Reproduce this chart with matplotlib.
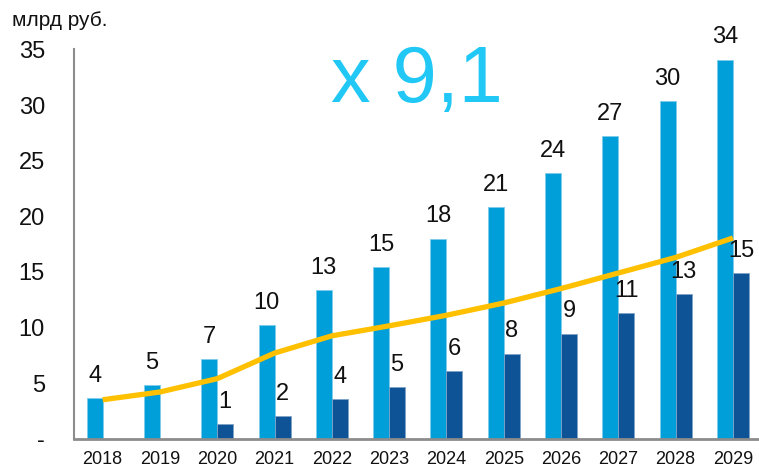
import matplotlib
matplotlib.use("Agg")
import matplotlib.pyplot as plt
import numpy as np

years = ["2018", "2019", "2020", "2021", "2022", "2023", "2024", "2025", "2026", "2027", "2028", "2029"]
light_vals = [3.64, 4.84, 7.18, 10.2, 13.33, 15.45, 18.0, 20.8, 23.9, 27.2, 30.4, 34.1]
dark_vals = [np.nan, np.nan, 1.35, 2.0, 3.55, 4.68, 6.07, 7.66, 9.46, 11.3, 13.0, 14.9]
line_vals = [3.5, 4.2, 5.4, 7.7, 9.25, 10.15, 11.1, 12.2, 13.5, 14.9, 16.3, 18.05]
y_ticks = [0, 5, 10, 15, 20, 25, 30, 35]
y_tick_labels = ["-", "5", "10", "15", "20", "25", "30", "35"]
unit_label = "млрд руб."
multiplier_text = "x 9,1"

plt.rcParams['font.family'] = ['Liberation Sans', 'DejaVu Sans']

fig = plt.figure(figsize=(7.59, 4.69), dpi=100)
ax = fig.add_axes([74/759, (469-438.7)/469, (759-74)/759, (438.7-49.5)/469])

x = np.arange(len(years))
w = 0.28
light_c = "#009FDA"
dark_c = "#0E5396"
b1 = ax.bar(x - w/2, light_vals, w, color=light_c, edgecolor="#7FCBEA", linewidth=0.6, zorder=2)
b2 = ax.bar(x + w/2, dark_vals, w, color=dark_c, edgecolor="#7FA3C8", linewidth=0.6, zorder=2)
ax.plot(x, line_vals, color="#FFC000", lw=3.8, solid_capstyle="butt", solid_joinstyle="round", zorder=3)

ax.bar_label(b1, labels=[f"{v:.0f}" for v in light_vals], padding=8, fontsize=17, color="#111111", zorder=4)
ax.bar_label(b2, labels=["" if np.isnan(v) else f"{v:.0f}" for v in dark_vals], padding=8, fontsize=17, color="#111111", zorder=4)

ax.set_xlim(-0.5, 11.455)
ax.set_ylim(0, 35)
ax.set_xticks(x)
ax.set_xticklabels(years, fontsize=13, color="#111111")
ax.set_yticks(y_ticks)
ax.set_yticklabels(y_tick_labels, fontsize=17, color="#111111")
ax.tick_params(axis="x", length=0, pad=9)
ax.tick_params(axis="y", length=0, pad=21)

for s in ["top", "right"]:
    ax.spines[s].set_visible(False)
ax.spines["left"].set_color("#8C8C8C")
ax.spines["bottom"].set_color("#8C8C8C")
ax.spines["left"].set_linewidth(1.5)
ax.spines["bottom"].set_linewidth(2)

fig.text(12/759, 1 - 20/469, unit_label, fontsize=15, ha="left", va="center", color="#111111")
fig.text(417/759, 1 - 81/469, multiplier_text, fontsize=57, ha="center", va="center", color="#22C8F5")

fig.savefig("out.png", dpi=100)
